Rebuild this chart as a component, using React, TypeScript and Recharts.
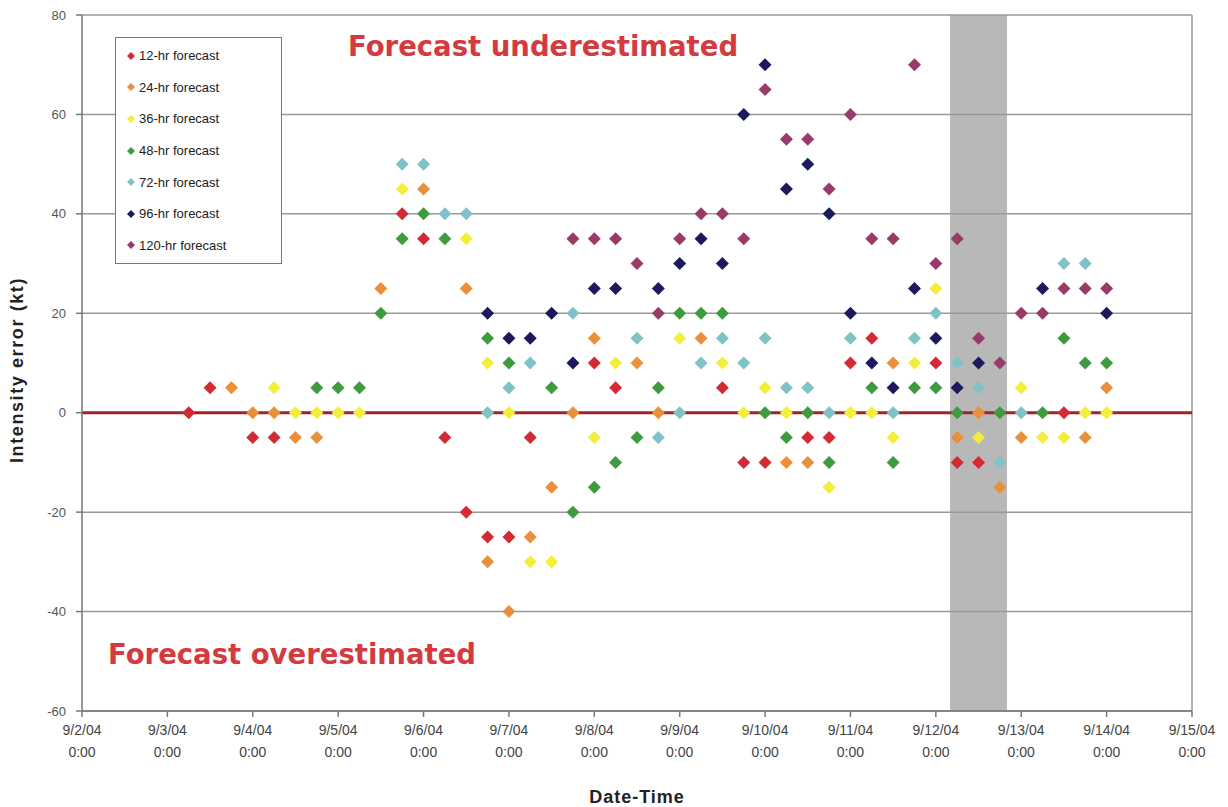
import {
    ScatterChart,
    Scatter,
    XAxis,
    YAxis,
    CartesianGrid,
    ReferenceArea,
    ReferenceLine,
} from 'recharts';

// intensity error (kt) by verifying time, one list per forecast lead
const err12 = [
    ['9/3 6:00', 0], ['9/3 12:00', 5], ['9/4 0:00', -5], ['9/4 6:00', -5],
    ['9/5 18:00', 40], ['9/6 0:00', 35], ['9/6 6:00', -5], ['9/6 12:00', -20],
    ['9/6 18:00', -25], ['9/7 0:00', -25], ['9/7 6:00', -5], ['9/8 0:00', 10],
    ['9/8 6:00', 5], ['9/9 12:00', 5], ['9/9 18:00', -10], ['9/10 0:00', -10],
    ['9/10 12:00', -5], ['9/10 18:00', -5], ['9/11 0:00', 10], ['9/11 6:00', 15],
    ['9/12 0:00', 10], ['9/12 6:00', -10], ['9/12 12:00', -10], ['9/13 12:00', 0],
];
const err24 = [
    ['9/3 18:00', 5], ['9/4 0:00', 0], ['9/4 6:00', 0], ['9/4 12:00', -5],
    ['9/4 18:00', -5], ['9/5 12:00', 25], ['9/6 0:00', 45], ['9/6 12:00', 25],
    ['9/6 18:00', -30], ['9/7 0:00', -40], ['9/7 6:00', -25], ['9/7 12:00', -15],
    ['9/7 18:00', 0], ['9/8 0:00', 15], ['9/8 12:00', 10], ['9/8 18:00', 0],
    ['9/9 6:00', 15], ['9/10 6:00', -10], ['9/10 12:00', -10], ['9/11 12:00', 10],
    ['9/12 6:00', -5], ['9/12 12:00', 0], ['9/12 18:00', -15], ['9/13 0:00', -5],
    ['9/13 18:00', -5], ['9/14 0:00', 5],
];
const err36 = [
    ['9/4 6:00', 5], ['9/4 12:00', 0], ['9/4 18:00', 0], ['9/5 0:00', 0],
    ['9/5 6:00', 0], ['9/5 18:00', 45], ['9/6 12:00', 35], ['9/6 18:00', 10],
    ['9/7 0:00', 0], ['9/7 6:00', -30], ['9/7 12:00', -30], ['9/8 0:00', -5],
    ['9/8 6:00', 10], ['9/9 0:00', 15], ['9/9 12:00', 10], ['9/9 18:00', 0],
    ['9/10 0:00', 5], ['9/10 6:00', 0], ['9/10 18:00', -15], ['9/11 0:00', 0],
    ['9/11 6:00', 0], ['9/11 12:00', -5], ['9/11 18:00', 10], ['9/12 0:00', 25],
    ['9/12 12:00', -5], ['9/13 0:00', 5], ['9/13 6:00', -5], ['9/13 12:00', -5],
    ['9/13 18:00', 0], ['9/14 0:00', 0],
];
const err48 = [
    ['9/4 18:00', 5], ['9/5 0:00', 5], ['9/5 6:00', 5], ['9/5 12:00', 20],
    ['9/5 18:00', 35], ['9/6 0:00', 40], ['9/6 6:00', 35], ['9/6 18:00', 15],
    ['9/7 0:00', 10], ['9/7 12:00', 5], ['9/7 18:00', -20], ['9/8 0:00', -15],
    ['9/8 6:00', -10], ['9/8 12:00', -5], ['9/8 18:00', 5], ['9/9 0:00', 20],
    ['9/9 6:00', 20], ['9/9 12:00', 20], ['9/10 0:00', 0], ['9/10 6:00', -5],
    ['9/10 12:00', 0], ['9/10 18:00', -10], ['9/11 6:00', 5], ['9/11 12:00', -10],
    ['9/11 18:00', 5], ['9/12 0:00', 5], ['9/12 6:00', 0], ['9/12 18:00', 0],
    ['9/13 6:00', 0], ['9/13 12:00', 15], ['9/13 18:00', 10], ['9/14 0:00', 10],
];
const err72 = [
    ['9/5 18:00', 50], ['9/6 0:00', 50], ['9/6 6:00', 40], ['9/6 12:00', 40],
    ['9/6 18:00', 0], ['9/7 0:00', 5], ['9/7 6:00', 10], ['9/7 18:00', 20],
    ['9/8 12:00', 15], ['9/8 18:00', -5], ['9/9 0:00', 0], ['9/9 6:00', 10],
    ['9/9 12:00', 15], ['9/9 18:00', 10], ['9/10 0:00', 15], ['9/10 6:00', 5],
    ['9/10 12:00', 5], ['9/10 18:00', 0], ['9/11 0:00', 15], ['9/11 12:00', 0],
    ['9/11 18:00', 15], ['9/12 0:00', 20], ['9/12 6:00', 10], ['9/12 12:00', 5],
    ['9/12 18:00', -10], ['9/13 0:00', 0], ['9/13 12:00', 30], ['9/13 18:00', 30],
];
const err96 = [
    ['9/6 18:00', 20], ['9/7 0:00', 15], ['9/7 6:00', 15], ['9/7 12:00', 20],
    ['9/7 18:00', 10], ['9/8 0:00', 25], ['9/8 6:00', 25], ['9/8 18:00', 25],
    ['9/9 0:00', 30], ['9/9 6:00', 35], ['9/9 12:00', 30], ['9/9 18:00', 60],
    ['9/10 0:00', 70], ['9/10 6:00', 45], ['9/10 12:00', 50], ['9/10 18:00', 40],
    ['9/11 0:00', 20], ['9/11 6:00', 10], ['9/11 12:00', 5], ['9/11 18:00', 25],
    ['9/12 0:00', 15], ['9/12 6:00', 5], ['9/12 12:00', 10], ['9/13 6:00', 25],
    ['9/14 0:00', 20],
];
const err120 = [
    ['9/7 18:00', 35], ['9/8 0:00', 35], ['9/8 6:00', 35], ['9/8 12:00', 30],
    ['9/8 18:00', 20], ['9/9 0:00', 35], ['9/9 6:00', 40], ['9/9 12:00', 40],
    ['9/9 18:00', 35], ['9/10 0:00', 65], ['9/10 6:00', 55], ['9/10 12:00', 55],
    ['9/10 18:00', 45], ['9/11 0:00', 60], ['9/11 6:00', 35], ['9/11 12:00', 35],
    ['9/11 18:00', 70], ['9/12 0:00', 30], ['9/12 6:00', 35], ['9/12 12:00', 15],
    ['9/12 18:00', 10], ['9/13 0:00', 20], ['9/13 6:00', 20], ['9/13 12:00', 25],
    ['9/13 18:00', 25], ['9/14 0:00', 25],
];

const dayLabels = [
    '9/2/04', '9/3/04', '9/4/04', '9/5/04', '9/6/04', '9/7/04', '9/8/04',
    '9/9/04', '9/10/04', '9/11/04', '9/12/04', '9/13/04', '9/14/04', '9/15/04',
];
const yTicks = [-60, -40, -20, 0, 20, 40, 60, 80];
const shadeStart = '9/12 4:00';
const shadeEnd = '9/12 20:00';

const series = [
    { name: '12-hr forecast', data: err12, color: '#d22b36' },
    { name: '24-hr forecast', data: err24, color: '#e8903c' },
    { name: '36-hr forecast', data: err36, color: '#f3ee3a' },
    { name: '48-hr forecast', data: err48, color: '#3f9b3f' },
    { name: '72-hr forecast', data: err72, color: '#7fc3c6' },
    { name: '96-hr forecast', data: err96, color: '#1c1a5c' },
    { name: '120-hr forecast', data: err120, color: '#993a68' },
];

// days since 9/2/04 0:00
function toDays(s: string) {
    const [md, hm] = s.split(' ');
    const day = Number(md.split('/')[1]);
    const hour = Number(hm.split(':')[0]);
    return day - 2 + hour / 24;
}

const font = '"Liberation Sans", Arial, sans-serif';

const Diamond = (props: any) => {
    const { cx, cy, fill } = props;
    const r = 6.5;
    return (
        <path
            d={`M${cx},${cy - r}L${cx + r},${cy}L${cx},${cy + r}L${cx - r},${cy}Z`}
            fill={fill}
        />
    );
};

const DateTick = (props: any) => {
    const { x, y, payload } = props;
    return (
        <g transform={`translate(${x},${y})`}>
            <text textAnchor="middle" fontFamily={font} fontSize={14} fill="#444">
                <tspan x={0} dy={16}>{dayLabels[payload.value]}</tspan>
                <tspan x={0} dy={22}>0:00</tspan>
            </text>
        </g>
    );
};

const LegendBox = () => (
    <div
        style={{
            position: 'absolute',
            left: 115,
            top: 37,
            width: 167,
            border: '1px solid #777',
            background: '#fff',
            padding: '2px 0 2px 10px',
            boxSizing: 'border-box',
            fontFamily: font,
            fontSize: 13,
            color: '#222',
        }}
    >
        {series.map((s) => (
            <div key={s.name} style={{ display: 'flex', alignItems: 'center', height: 31.6 }}>
                <svg width={10} height={10} style={{ marginRight: 3 }}>
                    <path d="M5,1L9,5L5,9L1,5Z" fill={s.color} />
                </svg>
                {s.name}
            </div>
        ))}
    </div>
);

const noteStyle = {
    position: 'absolute' as const,
    fontFamily: '"DejaVu Sans", sans-serif',
    fontWeight: 'bold',
    fontSize: 27.5,
    color: '#d43a40',
    whiteSpace: 'nowrap' as const,
};

export default function App() {
    return (
        <div style={{ position: 'absolute', left: 0, top: 0, width: 1228, height: 807, background: '#fff', overflow: 'hidden' }}>
            <ScatterChart width={1228} height={807} margin={{ top: 15, right: 36, bottom: 0, left: 0 }}>
                <CartesianGrid vertical={false} stroke="#999" strokeWidth={1.5} />
                <XAxis
                    type="number"
                    dataKey="x"
                    domain={[0, 13]}
                    ticks={dayLabels.map((_, i) => i)}
                    tick={<DateTick />}
                    height={96}
                    stroke="#777"
                    strokeWidth={1.5}
                    tickSize={6}
                    label={{
                        value: 'Date-Time',
                        position: 'insideBottom',
                        offset: 0,
                        dy: -4,
                        fontFamily: font,
                        fontSize: 18,
                        fontWeight: 'bold',
                        letterSpacing: 1,
                        fill: '#222',
                    }}
                />
                <YAxis
                    type="number"
                    dataKey="y"
                    domain={[-60, 80]}
                    ticks={yTicks}
                    width={82}
                    stroke="#777"
                    strokeWidth={1.5}
                    tickSize={6}
                    tickMargin={10}
                    tick={{ fontFamily: font, fontSize: 13, fill: '#555' }}
                    label={{
                        value: 'Intensity error (kt)',
                        angle: -90,
                        position: 'insideLeft',
                        offset: 17,
                        dy: 100,
                        fontFamily: font,
                        fontSize: 18,
                        fontWeight: 'bold',
                        letterSpacing: 1.6,
                        fill: '#222',
                    }}
                />
                <ReferenceArea
                    x1={toDays(shadeStart)}
                    x2={toDays(shadeEnd)}
                    fill="#9a9a9a"
                    fillOpacity={0.7}
                    stroke="none"
                />
                <ReferenceLine x={13} stroke="#999" strokeWidth={1.5} />
                <ReferenceLine y={0} stroke="#a1232a" strokeWidth={3} />
                {series.map((s) => (
                    <Scatter
                        key={s.name}
                        name={s.name}
                        data={s.data.map(([t, v]) => ({ x: toDays(t as string), y: v }))}
                        fill={s.color}
                        shape={<Diamond />}
                        isAnimationActive={false}
                    />
                ))}
            </ScatterChart>
            <LegendBox />
            <div style={{ ...noteStyle, left: 348, top: 30 }}>Forecast underestimated</div>
            <div style={{ ...noteStyle, left: 108, top: 638 }}>Forecast overestimated</div>
        </div>
    );
}
